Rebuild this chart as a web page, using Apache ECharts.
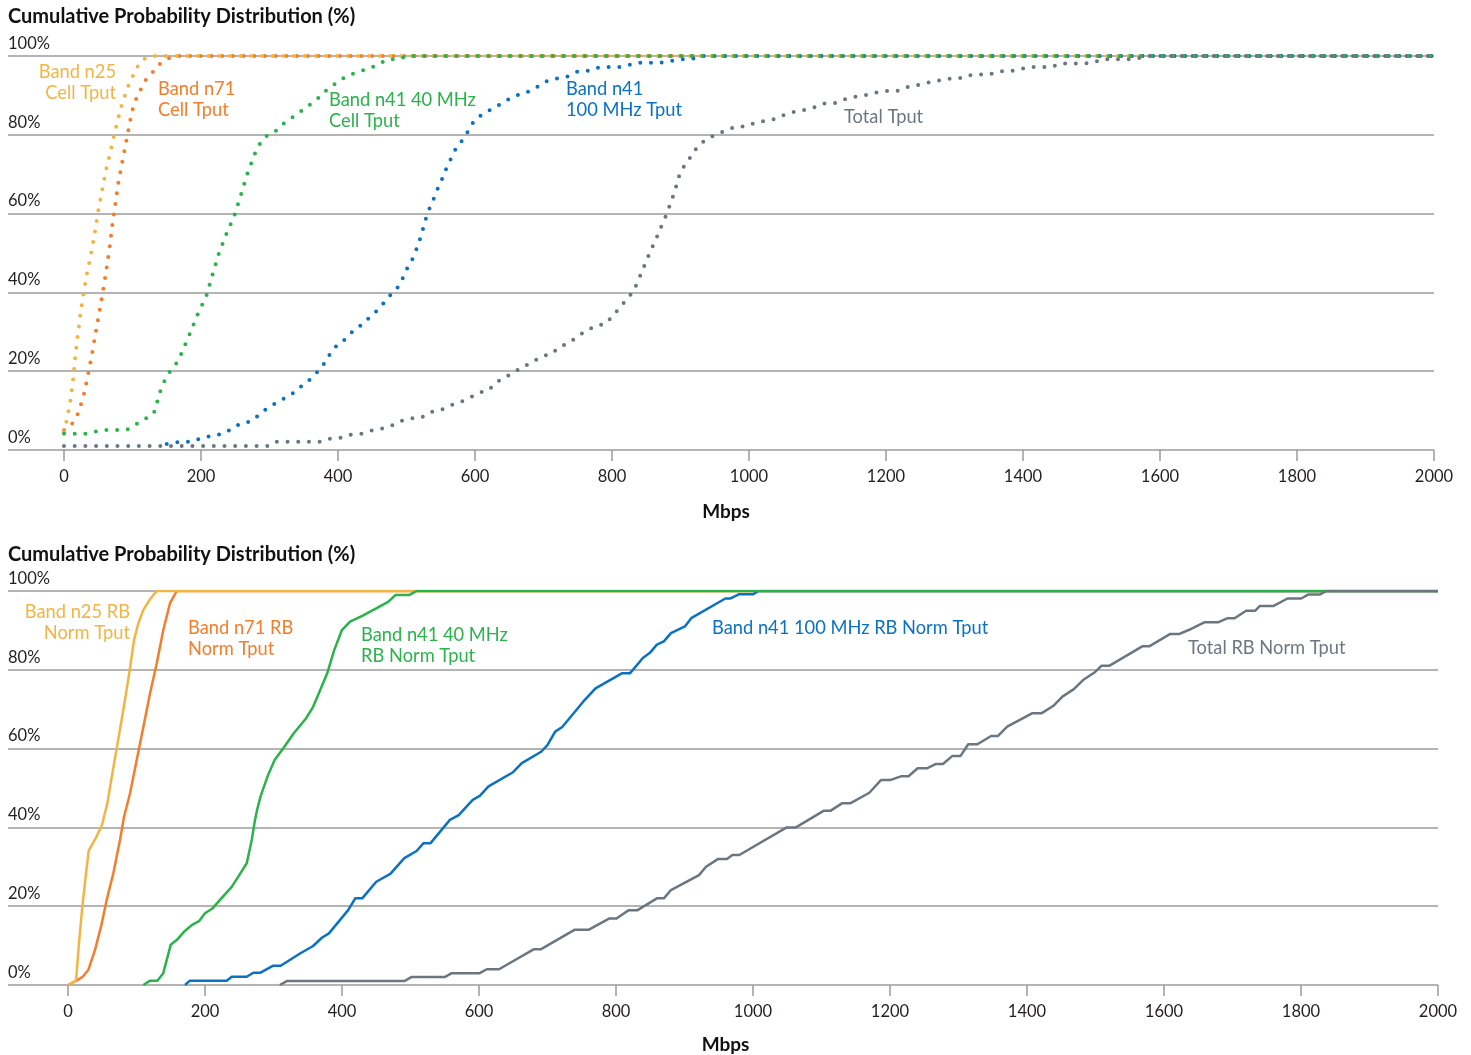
<!DOCTYPE html>
<html>
<head>
<meta charset="utf-8">
<title>Cumulative Probability Distribution</title>
<script src="https://cdn.jsdelivr.net/npm/echarts@6/dist/echarts.min.js"></script>
<style>
  html, body { margin: 0; padding: 0; background: #ffffff; }
  #chart { width: 1471px; height: 1055px; }
</style>
</head>
<body>
<div id="chart"></div>
<script>
// ---- Data: throughput (Mbps) vs cumulative probability (%) ----
const xTicks = [0, 200, 400, 600, 800, 1000, 1200, 1400, 1600, 1800, 2000];
const yTicks = [0, 20, 40, 60, 80, 100];

// Upper panel: cell throughput
const n25Cell = [[0,4.5],[3,6.8],[9,12],[13,17.4],[16,22.8],[19.5,28.3],[23.4,33.7],[27.7,39],[33,44.3],[39.4,49.7],[44.8,55],[49.6,60.4],[55.5,65.7],[61.3,71],[68.6,76.4],[75.4,81.6],[83.2,87],[93,92.1],[106,97],[116,99.2],[128,100],[2000,100]];
const n71Cell = [[0,5],[12.6,6.8],[20,9.1],[24.8,11.6],[29.2,14.2],[35.5,19.5],[41.3,24.8],[46.7,30.2],[52.1,35.5],[57.4,40.9],[62.3,46.3],[66.7,51.6],[70.5,57],[74.9,62.4],[79.3,67.8],[85.1,73.2],[91,78.5],[96.8,83.8],[100.3,86.5],[105.1,89],[112,91.5],[119.3,93.9],[129.5,95.9],[140,98],[153,99.4],[165,100],[2000,100]];
const n41_40Cell = [[0,4.1],[31.6,4.1],[46.7,4.7],[61.8,5.1],[77.4,5.1],[92.5,5.2],[106,6.6],[119.7,8],[131.4,9.5],[135.8,12.1],[140.1,14.7],[146,17.3],[153.3,19.6],[163,21.7],[170.8,24.3],[182.9,29.2],[194.6,34.2],[207.8,39.1],[216.5,44.3],[225.3,49.5],[236.5,54.6],[248.7,59.5],[258,64.6],[267.2,69.9],[277.8,74.9],[284.7,77.4],[294.4,79.6],[308,80.8],[319.3,82.7],[332.4,84.3],[344.5,85.8],[357.2,87.4],[369.3,89],[381,91],[393.1,92.6],[404.8,94.1],[418.5,95.3],[432,96.2],[446.7,96.8],[460.3,98.1],[474.5,99.2],[489.5,99.2],[500,100],[2000,100]];
const n41_100Cell = [[150,1.5],[170.8,2.1],[186.4,2.1],[200.5,3],[215.6,3.6],[230.7,4.1],[244.3,5.3],[258,6.8],[272.5,7.2],[284.7,8.9],[296.4,10.6],[310,12],[323.6,13.3],[336.8,14.7],[348.5,16.5],[360.6,18.1],[370.8,20],[381,22.2],[388.8,24.5],[398.5,26.6],[411.2,28.2],[421.9,30.2],[434.1,31.7],[445.7,33.6],[457,35.4],[467.7,37.5],[477.4,39.5],[488,41.4],[495.4,43.9],[501.7,46.4],[509.5,48.7],[515.3,51.3],[520.2,53.8],[524.5,56.4],[528.9,59.1],[534.3,61.6],[540.6,64.1],[546.4,66.7],[552.8,69.1],[558.6,71.7],[565.4,74.1],[572.3,76.6],[582,78.7],[590.3,81],[598.1,83.4],[609.2,85],[622.9,86.4],[636.5,87.7],[650,89.1],[664.2,90.2],[678.3,91],[692,92.3],[705.5,93.7],[720.1,94.3],[735.3,94.8],[749.3,96],[763.9,96.2],[778.5,97],[793.7,97.2],[809.8,97.2],[824.8,97.7],[839.4,98.3],[870,98.3],[884.7,98.7],[900.3,99.2],[916.3,99.2],[930,100],[2000,100]];
const totalCell = [[0,1],[300,1],[311,2.1],[374,2.1],[388.8,2.9],[403.9,3.1],[418.5,3.9],[433.6,4.1],[448.2,4.9],[462.8,5.4],[477.4,6.1],[491.5,7.3],[506.1,8],[521.2,8.2],[534.8,9.6],[549.4,10.1],[563.5,11.3],[578.1,12.1],[591.7,13.2],[605.8,14.5],[620,15.2],[630.7,17.2],[643.8,18.4],[657,19.8],[670.5,21.1],[684.2,22.4],[698.3,23.8],[712,24.4],[723.1,26.2],[737.2,27.1],[749.3,28.8],[762,30.2],[775.7,31.5],[790.3,32],[801,34],[811.2,36.1],[821.4,38.2],[831.2,40.3],[837.5,42.7],[843.8,45.3],[849.6,47.8],[855.9,50.3],[862.3,52.8],[868.6,55.3],[874.5,57.8],[880.7,60.2],[885.7,62.8],[891,65.3],[895.3,67.9],[899.7,70.6],[908.5,72.8],[917.3,75],[925.5,77.2],[938,78.9],[951.8,80.1],[965.9,81.1],[980.5,82.1],[995.2,82.1],[1009.8,83.1],[1024.8,83.6],[1039.9,84.1],[1053.6,85.2],[1068.2,85.9],[1082.8,86.4],[1097.4,87.1],[1112,88.1],[1127,88.1],[1141.2,89.1],[1155.8,89.7],[1170.8,90.1],[1185.4,90.7],[1200.5,91.1],[1216.1,91.1],[1230.7,92.1],[1245.3,92.6],[1259.9,93.2],[1275,93.7],[1290.1,94.2],[1305.1,94.2],[1319.7,95.1],[1335.3,95.3],[1350.4,95.3],[1365,96.1],[1380,96.1],[1395.6,96.7],[1410.7,97.2],[1441.3,97.2],[1455.5,98.1],[1486.6,98.1],[1502,98.3],[1516.8,99.2],[1563,99.2],[1580,100],[2000,100]];

// Lower panel: RB-normalised throughput
const n25RB = [[0,0],[11.7,1.1],[16,10.6],[20.9,19.9],[26.3,28.3],[30.2,34.1],[40.9,37.4],[49.6,40.6],[57.4,46.1],[64.7,53.7],[71.5,60.5],[78.3,67.3],[84.7,74],[90.5,80.4],[96.4,87.6],[102.7,91.8],[110,95.2],[119.7,97.9],[129.4,100],[2000,100]];
const n71RB = [[0,0],[12.7,1.1],[21.4,2.1],[29.6,3.8],[39.4,8.9],[48.2,14.8],[56.5,21.6],[66.1,28.3],[75.9,36.8],[81.8,42.7],[90.5,48.6],[100.3,57.1],[110,65.5],[119.7,74],[129.5,81.6],[139.1,90.1],[148.9,96.9],[158.7,100],[2000,100]];
const n41_40RB = [[110,0],[119.7,1.1],[130.4,1.1],[139.1,3],[149.9,10.2],[158.7,11.4],[169.3,13.5],[180.6,15.2],[191.2,16.2],[200,18.2],[210.7,19.4],[221.9,21.6],[239,24.9],[248.6,27.5],[260.9,30.9],[268.2,36.8],[273,41.9],[276,44.4],[281,47.8],[291.2,52.9],[301.6,57.1],[314.3,60.1],[329.6,63.9],[347.6,67.7],[357.8,70.6],[368.2,74.9],[378.4,79.1],[388.6,85],[399.9,90.1],[411.7,92.2],[429.5,93.7],[450,95.6],[467.9,97.3],[478.2,99],[498.7,99],[508.9,100],[2000,100]];
const n41_100RB = [[170.8,0],[178,1.1],[231.7,1.1],[239,2.1],[260.9,2.1],[270.6,3.1],[280.3,3.1],[299.7,4.9],[310.5,4.9],[338.7,8],[357.8,9.9],[370.6,12],[380.9,13.1],[409,19],[419.3,22],[429.5,22],[450,26.2],[470.5,28.2],[491,32.2],[508.9,34],[519.1,36],[529.3,36],[557.5,41.9],[570.4,43.1],[590.8,47],[601.1,48],[613.9,50.4],[649.7,54],[662.5,56.3],[690.7,59.2],[699.9,60.9],[711.2,64.3],[721.5,65.5],[752.1,71.9],[770.1,75.3],[808.5,79.1],[820.3,79.1],[839.2,83],[849.5,84.3],[859.7,86.4],[869.9,87.2],[880.2,89.3],[900.6,91],[909.8,93.1],[959.6,98.1],[967.2,98.1],[980,99.2],[1000.4,99.2],[1008.2,100],[2000,100]];
const totalRB = [[309.2,0],[319.4,1],[491,1],[501.2,2],[549.9,2],[560.2,3],[601.1,3],[611.4,4],[629.2,4],[680.4,9.1],[690.7,9.1],[739.3,14],[759.8,14],[790.5,16.9],[800.7,16.9],[818.7,19],[831.5,19],[859.7,22],[869.9,22],[880.2,24.1],[921.2,27.9],[931.4,30],[949.2,32],[962,32],[969.8,33],[980,33],[1049.2,40],[1062.6,40],[1103,44.2],[1113,44.2],[1129.8,46.1],[1141.8,46.1],[1169.9,48.8],[1186.7,52],[1200.1,52],[1216.9,53],[1227,53],[1240.4,55],[1253.9,55],[1267.2,56.1],[1277.3,56.1],[1290.7,58.1],[1302.8,58.1],[1314.2,61.1],[1327.6,61.1],[1347.7,63.2],[1357.7,63.2],[1371.1,65.6],[1408,69],[1421.5,69],[1438.2,70.8],[1451.7,73.2],[1468.4,75.1],[1481.8,77.4],[1498.5,79.3],[1508.6,81],[1520,81],[1568.9,86],[1579,86],[1609.2,89.1],[1622.6,89.1],[1636,90.1],[1659.5,92.1],[1679.6,92.1],[1693,93.1],[1703,93.1],[1719.9,95],[1733.3,95],[1740,96.2],[1760.1,96.2],[1780.3,98.1],[1800.3,98.1],[1810.4,99.1],[1827.2,99.1],[1837.2,100],[2000,100]];

const panelTitle = 'Cumulative Probability Distribution (%)';
const axisTitle = 'Mbps';

// ---- Styling ----
const C = {
  yellow: '#F2B543',
  orange: '#F47D2B',
  green: '#2AB34B',
  blue: '#0B72C1',
  gray: '#6B7680',
  grid: '#9b9b9b',
  text: '#231f20'
};
const labelFont = "'Lato', 'Noto Sans', sans-serif";
const textFont = "'Lato', 'Noto Sans', sans-serif";
const NOTE_SIZE = 18.3;

// The gridlines run out to the page margin, left of the x = 0 tick,
// so each x axis starts a little below zero.
const X_MIN_TOP = -81.75;
const X_MIN_BOTTOM = -87.6;

function xAxis(gridIndex, min, nameGap, nameShift) {
  return {
    gridIndex, type: 'value', min, max: 2000,
    axisLine: { show: false },
    splitLine: { show: false },
    axisTick: { show: true, customValues: xTicks, length: 11, lineStyle: { color: C.grid, width: 1.5 } },
    axisLabel: {
      customValues: xTicks, margin: 18, fontSize: 16.5, color: C.text,
      fontFamily: labelFont, formatter: (v) => String(v)
    },
    name: axisTitle, nameLocation: 'middle', nameGap,
    nameTextStyle: {
      fontFamily: textFont, fontWeight: 'bold', fontSize: 19, color: '#111',
      padding: [0, 0, 0, nameShift]
    }
  };
}
function yAxis(gridIndex) {
  return {
    gridIndex, type: 'value', min: 0, max: 100, interval: 20,
    axisLine: { show: false }, axisTick: { show: false },
    splitLine: { show: true, lineStyle: { color: C.grid, width: 1.5 } },
    axisLabel: {
      inside: true, margin: 0, formatter: '{value}%', fontSize: 16.5, color: C.text,
      fontFamily: labelFont, verticalAlign: 'bottom', lineHeight: 17, padding: [0, 0, 4, 0]
    }
  };
}
function dotted(name, data, color) {
  return {
    name, type: 'line', xAxisIndex: 0, yAxisIndex: 0, data,
    showSymbol: false, smooth: false, silent: true,
    lineStyle: { color, width: 4, type: [0, 10.7], cap: 'round' }
  };
}
function solid(name, data, color) {
  return {
    name, type: 'line', xAxisIndex: 1, yAxisIndex: 1, data,
    showSymbol: false, smooth: false, silent: true,
    lineStyle: { color, width: 2.5, join: 'round' }
  };
}
function note(text, x, y, color, align) {
  return {
    type: 'text', x, y,
    style: {
      text, fill: color, font: NOTE_SIZE + "px " + textFont,
      textAlign: align || 'left', textVerticalAlign: 'middle', lineHeight: 21
    }
  };
}
function heading(text, y) {
  return {
    type: 'text', x: 8, y,
    style: { text, fill: '#111', font: "bold 20px " + textFont, textVerticalAlign: 'middle' }
  };
}

const chart = echarts.init(document.getElementById('chart'), null, { renderer: 'canvas' });
chart.setOption({
  animation: false,
  backgroundColor: '#ffffff',
  grid: [
    { left: 8, top: 56, width: 1426, height: 394 },
    { left: 8, top: 591, width: 1430, height: 394 }
  ],
  xAxis: [xAxis(0, X_MIN_TOP, 52, 10), xAxis(1, X_MIN_BOTTOM, 50, 5)],
  yAxis: [yAxis(0), yAxis(1)],
  series: [
    dotted('Band n71 Cell Tput', n71Cell, C.orange),
    dotted('Band n25 Cell Tput', n25Cell, C.yellow),
    dotted('Band n41 100 MHz Tput', n41_100Cell, C.blue),
    dotted('Band n41 40 MHz Cell Tput', n41_40Cell, C.green),
    dotted('Total Tput', totalCell, C.gray),
    solid('Band n71 RB Norm Tput', n71RB, C.orange),
    solid('Band n25 RB Norm Tput', n25RB, C.yellow),
    solid('Band n41 100 MHz RB Norm Tput', n41_100RB, C.blue),
    solid('Band n41 40 MHz RB Norm Tput', n41_40RB, C.green),
    solid('Total RB Norm Tput', totalRB, C.gray)
  ],
  graphic: [
    heading(panelTitle, 17),
    heading(panelTitle, 555),
    note('Band n25\nCell Tput', 116, 83, C.yellow, 'right'),
    note('Band n71\nCell Tput', 158, 100, C.orange),
    note('Band n41 40 MHz\nCell Tput', 329, 111, C.green),
    note('Band n41\n100 MHz Tput', 566, 100, C.blue),
    note('Total Tput', 844, 117, C.gray),
    note('Band n25 RB\nNorm Tput', 130, 623, C.yellow, 'right'),
    note('Band n71 RB\nNorm Tput', 188, 639, C.orange),
    note('Band n41 40 MHz\nRB Norm Tput', 361, 646, C.green),
    note('Band n41 100 MHz RB Norm Tput', 712, 628, C.blue),
    note('Total RB Norm Tput', 1188, 648, C.gray)
  ]
});
</script>
</body>
</html>
